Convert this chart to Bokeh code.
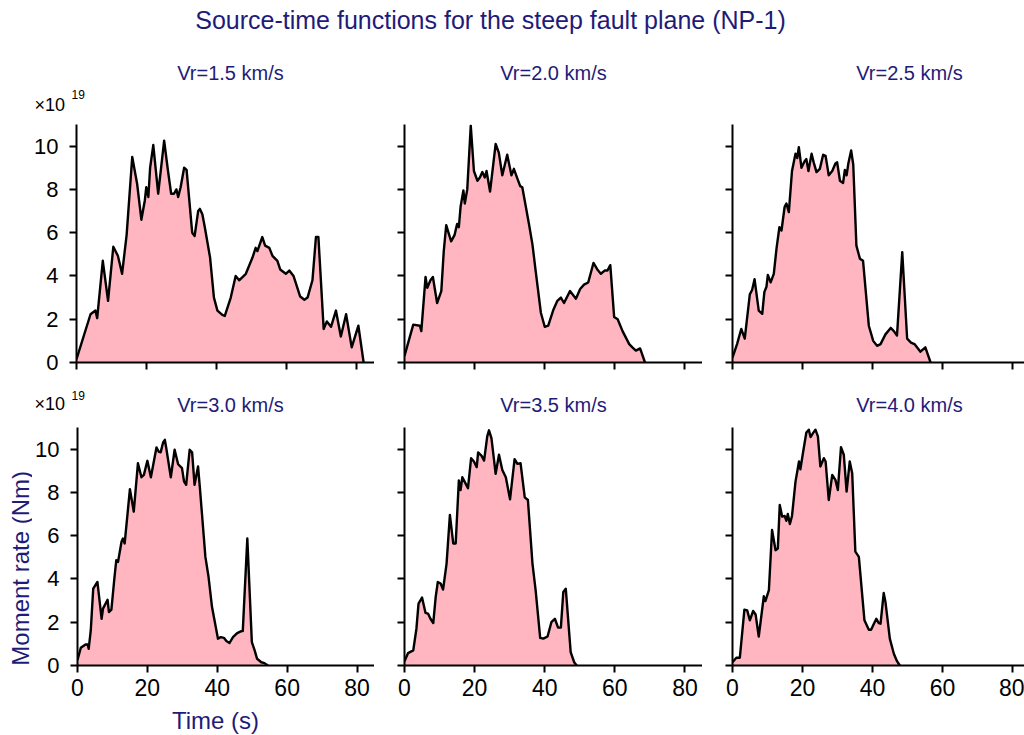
import math
from bokeh.plotting import figure
from bokeh.layouts import column, row
from bokeh.models import Label, Range1d, FixedTicker, CustomLabelingPolicy
from bokeh.embed import file_html
from bokeh.resources import INLINE

FONT = "Liberation Sans"
NAVY = "#1f1b78"
FILL = "#ffb6c1"

main_title = "Source-time functions for the steep fault plane (NP-1)"
panel_titles = ["Vr=1.5 km/s", "Vr=2.0 km/s", "Vr=2.5 km/s",
                "Vr=3.0 km/s", "Vr=3.5 km/s", "Vr=4.0 km/s"]
x_ticks = [0, 20, 40, 60, 80]
y_ticks = [0, 2, 4, 6, 8, 10]
x_label = "Time (s)"
y_label = "Moment rate (Nm)"
scale_text = "\u00d710"
scale_exp = "19"

# Moment rate in units of 1e19 Nm, time in s
t_15 = [0, 4, 5.4, 5.9, 7.5, 9.0, 10.5, 11.8, 13.0, 14.3, 15.9, 17.3, 18.5, 19.5, 19.9,
        20.5, 21.0, 21.9, 23.3, 25.0, 26.1, 27.0, 27.8, 28.5, 29.0, 29.7, 30.7, 31.4, 33.0, 33.7,
        34.7, 35.2, 35.9, 36.6, 38.1, 39.2, 40.2, 41.6, 42.3, 44.0, 45.4, 46.4, 48.3, 50.2, 51.1,
        51.6, 53.0, 53.8, 55.0, 55.9, 57.3, 58.1, 59.7, 60.7, 61.9, 63.8, 65.0, 65.9, 67.3, 68.3,
        69.0, 70.5, 71.4, 72.6, 74.0, 75.4, 76.9, 78.5, 80.4, 81.9]
m_15 = [0.15, 2.23, 2.4, 2.05, 4.7, 2.85, 5.35, 4.93, 4.1, 5.9, 9.5, 8.25, 6.6, 7.5, 8.1,
        7.65, 9.0, 10.05, 7.8, 10.25, 8.85, 7.8, 7.8, 8.0, 7.65, 8.1, 9.0, 8.9, 6.0, 5.85,
        7.0, 7.1, 6.85, 6.25, 4.85, 3.0, 2.4, 2.2, 2.15, 3.0, 4.0, 3.8, 4.1, 4.85, 5.3,
        5.15, 5.8, 5.4, 5.3, 4.93, 4.7, 4.3, 4.1, 4.25, 4.0, 3.05, 2.9, 3.0, 3.8, 5.8,
        5.8, 1.55, 1.9, 1.65, 2.4, 1.2, 2.23, 0.7, 1.7, 0]

t_20 = [0, 2.5, 4.4, 4.8, 6.0, 6.5, 7.4, 8.1, 9.3, 10.5, 11.2, 11.9, 13.3, 14.3, 15.0,
        15.5, 16.0, 16.8, 17.2, 17.9, 18.9, 19.8, 20.8, 21.5, 22.2, 22.9, 23.4, 24.4, 26.0, 26.9,
        27.9, 29.3, 30.5, 31.2, 32.2, 33.0, 33.6, 35.5, 36.5, 37.4, 38.9, 40.0, 41.0, 42.5, 43.6,
        44.6, 45.5, 47.2, 48.9, 50.1, 51.2, 52.4, 53.9, 55.0, 56.0, 57.1, 57.9, 58.7, 59.8, 60.8,
        62.2, 64.1, 65.0, 66.0, 67.2, 68.6]
m_20 = [0.3, 1.75, 1.7, 1.45, 3.95, 3.45, 3.8, 3.95, 2.75, 3.3, 5.15, 6.35, 5.6, 5.9, 6.4,
        6.25, 7.2, 7.95, 7.35, 8.0, 10.95, 8.85, 8.4, 8.55, 8.8, 8.55, 8.85, 7.9, 10.1, 9.7,
        8.65, 9.6, 8.65, 8.95, 8.5, 8.15, 8.1, 6.4, 5.45, 4.25, 2.3, 1.65, 1.7, 2.45, 2.85,
        3.0, 2.75, 3.3, 2.95, 3.4, 3.6, 3.7, 4.6, 4.3, 4.1, 4.25, 4.25, 4.5, 2.1, 2.0,
        1.45, 0.85, 0.7, 0.55, 0.65, 0]

t_25 = [0, 1.3, 2.5, 3.5, 4.95, 5.6, 6.3, 7.5, 8.5, 9.1, 9.7, 10.1, 10.9, 11.8, 12.6,
        13.4, 14.0, 14.9, 15.4, 16.1, 17.0, 18.0, 18.5, 18.95, 19.7, 20.6, 21.1, 21.7, 22.6, 23.2,
        24.0, 24.95, 25.9, 26.6, 27.5, 28.5, 29.4, 29.9, 30.7, 31.6, 32.1, 32.6, 33.1, 33.9, 34.5,
        35.4, 36.4, 37.3, 38.95, 40.2, 41.3, 42.3, 43.7, 45.2, 46.1, 47.0, 48.5, 49.9, 51.0, 52.0,
        53.7, 55.1, 56.6]
m_25 = [0.23, 0.85, 1.55, 1.1, 3.15, 3.35, 3.85, 2.4, 2.25, 3.25, 3.5, 4.05, 3.7, 4.1, 5.3,
        6.25, 6.1, 7.2, 7.35, 6.95, 8.85, 9.65, 9.45, 9.95, 9.0, 9.3, 9.4, 8.85, 9.65, 9.25,
        8.8, 8.95, 9.6, 9.55, 8.65, 8.85, 9.2, 9.25, 8.4, 8.3, 8.9, 8.65, 9.2, 9.8, 9.15,
        5.4, 4.8, 4.7, 1.7, 1.0, 0.77, 0.85, 1.3, 1.6, 1.45, 1.25, 5.1, 1.1, 0.92, 0.85,
        0.5, 0.7, 0]

t_30 = [0, 0.95, 2.3, 2.9, 3.2, 3.8, 4.5, 5.7, 6.9, 7.3, 8.6, 9.0, 9.7, 10.5, 11.1,
        11.6, 12.6, 13.0, 13.5, 15.0, 16.1, 17.3, 18.3, 19.0, 20.0, 21.0, 22.6, 23.2, 23.8, 24.5,
        25.0, 25.4, 26.7, 27.8, 28.8, 29.9, 30.5, 31.1, 32.1, 32.8, 33.5, 34.5, 35.0, 36.6, 37.5,
        38.5, 40.2, 41.0, 41.9, 42.6, 43.5, 44.5, 45.7, 46.9, 47.3, 48.6, 49.9, 50.7, 51.4, 52.6,
        53.5, 54.5]
m_30 = [0.26, 0.82, 0.97, 0.97, 0.77, 1.62, 3.55, 3.86, 2.16, 2.63, 3.04, 2.47, 2.58, 3.94, 4.87,
        4.79, 5.72, 5.87, 5.64, 8.15, 7.11, 9.35, 8.7, 8.81, 9.46, 8.7, 10.08, 9.89, 9.85, 10.31,
        10.43, 10.05, 8.7, 9.97, 9.3, 9.12, 8.5, 8.35, 9.97, 9.85, 8.35, 9.2, 8.27, 5.02, 4.1,
        2.7, 1.24, 1.31, 1.28, 1.13, 1.04, 1.31, 1.5, 1.59, 1.59, 5.87, 1.08, 0.7, 0.31, 0.15,
        0.11, 0]

t_35 = [0, 1.0, 2.5, 3.4, 4.0, 5.0, 6.0, 6.7, 7.4, 8.2, 8.9, 9.5, 10.3, 11.0, 12.0,
        12.95, 13.9, 14.6, 15.5, 16.0, 16.5, 17.4, 18.1, 19.0, 19.8, 20.6, 21.0, 22.0, 22.7, 23.6,
        24.1, 24.8, 26.0, 26.95, 27.9, 28.9, 30.1, 31.4, 32.2, 33.1, 34.3, 35.2, 36.5, 37.4, 38.7,
        39.6, 40.8, 41.9, 42.9, 43.8, 44.6, 45.3, 46.0, 47.4, 48.4, 49.1]
m_35 = [0.2, 0.57, 0.7, 1.7, 2.86, 3.14, 2.43, 2.4, 2.16, 1.96, 3.17, 3.86, 3.79, 3.51, 4.71,
        6.96, 5.64, 5.64, 8.55, 8.11, 8.7, 8.42, 8.19, 9.58, 9.43, 9.17, 9.85, 9.69, 9.47, 10.59,
        10.87, 10.51, 8.86, 9.74, 9.04, 8.7, 7.68, 9.54, 9.32, 9.35, 7.77, 7.65, 4.71, 3.48, 1.28,
        1.24, 1.34, 2.0, 2.16, 1.75, 1.75, 3.4, 3.55, 0.62, 0.15, 0]

t_40 = [0, 1.1, 2.1, 3.4, 4.2, 4.95, 5.9, 6.6, 7.5, 8.95, 9.4, 10.4, 11.3, 12.3, 12.95,
        13.5, 14.2, 14.9, 15.4, 15.8, 16.4, 17.0, 18.0, 19.0, 19.4, 20.2, 21.1, 21.8, 22.3, 23.0,
        23.7, 24.4, 25.1, 26.1, 26.6, 27.5, 28.5, 29.4, 30.1, 31.0, 31.8, 32.6, 33.5, 34.2, 35.1,
        36.1, 37.7, 38.95, 39.6, 40.4, 41.1, 41.8, 42.3, 43.2, 43.7, 44.95, 46.1, 47.0, 47.8]
m_40 = [0.15, 0.36, 0.36, 2.58, 2.55, 2.09, 2.52, 2.36, 1.34, 3.2, 2.98, 3.48, 6.26, 5.33, 5.41,
        7.42, 6.88, 6.91, 6.69, 7.0, 6.54, 6.91, 8.5, 9.43, 9.07, 9.89, 10.77, 10.9, 10.56, 10.74,
        10.9, 10.59, 9.2, 9.58, 9.43, 7.65, 8.81, 8.58, 8.11, 10.09, 9.74, 8.04, 9.43, 8.89, 5.26,
        5.02, 2.09, 1.65, 1.65, 1.93, 2.16, 1.96, 1.93, 3.35, 2.94, 1.24, 0.54, 0.2, 0]

series = [(t_15, m_15), (t_20, m_20), (t_25, m_25),
          (t_30, m_30), (t_35, m_35), (t_40, m_40)]

# ---- layout geometry (pixels) ----
W = 1024
HEADER_H = 116          # main title + first row of panel titles
ROW1 = dict(height=264, top=8, bottom=18)
STRIP_H = 36            # panel titles of second row
ROW2 = dict(height=289, top=11, bottom=40)
FOOT_H = 30             # x-axis label
YLAB_W = 32             # y-axis label strip
COLS_R1 = [dict(width=374, left=76, xend=85.0),
           dict(width=328, left=30, xend=85.0),
           dict(width=322, left=30, xend=83.43)]
COLS_R2 = [dict(width=342, left=44, xend=85.0),
           dict(width=328, left=30, xend=85.0),
           dict(width=322, left=30, xend=83.43)]
TITLE_CX = [230, 553, 909]


def text_fig(w, h):
    f = figure(width=w, height=h, x_range=Range1d(0, w), y_range=Range1d(0, h),
               output_backend="svg", toolbar_location=None, title=None,
               x_axis_type=None, y_axis_type=None,
               min_border_left=0, min_border_right=0, min_border_top=0, min_border_bottom=0)
    f.grid.visible = False
    f.outline_line_color = None
    f.background_fill_color = "white"
    f.border_fill_color = "white"
    return f


def add_text(f, x, y, text, size, color, align="left", angle=0.0):
    # y is the vertical centre of the text line
    f.add_layout(Label(x=x, y=y, text=text, text_align=align, text_baseline="middle",
                       angle=angle, text_font=FONT, text_font_size=size, text_color=color))


def style_axis(ax, show_labels, standoff, size):
    ax.axis_line_color = "black"
    ax.axis_line_width = 2
    ax.major_tick_line_color = "black"
    ax.major_tick_line_width = 2
    ax.major_tick_out = 7
    ax.major_tick_in = 0
    ax.minor_tick_out = 0
    ax.minor_tick_in = 0
    ax.major_label_text_font = FONT
    ax.major_label_text_color = "black"
    ax.major_label_text_font_size = size
    ax.major_label_standoff = standoff
    if not show_labels:
        ax.major_label_text_font_size = "1px"
        ax.major_label_standoff = 0
        ax.major_label_policy = CustomLabelingPolicy(
            code="for (const i of indices) indices.unset(i)")


def make_panel(i):
    ri, ci = divmod(i, 3)
    c = (COLS_R1 if ri == 0 else COLS_R2)[ci]
    r = ROW1 if ri == 0 else ROW2
    t, m = series[i]
    p = figure(width=c["width"], height=r["height"],
               x_range=Range1d(0, c["xend"]), y_range=Range1d(0, 11),
               output_backend="svg", toolbar_location=None, title=None,
               min_border_left=c["left"], min_border_right=0,
               min_border_top=r["top"], min_border_bottom=r["bottom"])
    p.outline_line_color = None
    p.xgrid.visible = False
    p.ygrid.visible = False
    p.background_fill_color = "white"
    p.border_fill_color = "white"
    p.varea(x=t, y1=0, y2=m, fill_color=FILL, fill_alpha=1.0)
    p.line(x=t, y=m, line_color="black", line_width=2.4, line_join="round")
    p.xaxis.ticker = FixedTicker(ticks=x_ticks)
    p.yaxis.ticker = FixedTicker(ticks=y_ticks)
    style_axis(p.xaxis[0], ri == 1, 6, "23px")
    style_axis(p.yaxis[0], ci == 0, 11, "22px")
    return p


# header: main title + titles of first row (page y = HEADER_H - y)
header = text_fig(W, HEADER_H)
add_text(header, 490, HEADER_H - 19, main_title, "25px", NAVY, "center")
for k in range(3):
    add_text(header, TITLE_CX[k], HEADER_H - 72, panel_titles[k], "20px", NAVY, "center")
add_text(header, 34, HEADER_H - 104, scale_text, "18px", "black")
add_text(header, 71, HEADER_H - 94, scale_exp, "12px", "black")

# strip between rows: titles of second row (page y = 416 - y)
strip = text_fig(W, STRIP_H)
for k in range(3):
    add_text(strip, TITLE_CX[k], STRIP_H - 24.5, panel_titles[3 + k], "20px", NAVY, "center")
add_text(strip, 34, STRIP_H - 23.5, scale_text, "18px", "black")
add_text(strip, 71, STRIP_H - 14.5, scale_exp, "12px", "black")

# y label strip (page y = 705 - y)
ylab = text_fig(YLAB_W, ROW2["height"])
add_text(ylab, 19.5, 705 - 587, y_label, "24px", NAVY, "center", angle=math.pi / 2)

# footer: x label (page y = 735 - y)
foot = text_fig(W, FOOT_H)
add_text(foot, 215, FOOT_H - 15, x_label, "24px", NAVY, "center")

panels = [make_panel(i) for i in range(6)]
layout = column(header,
                row(*panels[:3]),
                strip,
                row(ylab, *panels[3:]),
                foot)

open("out.html", "w").write(file_html(layout, INLINE))
